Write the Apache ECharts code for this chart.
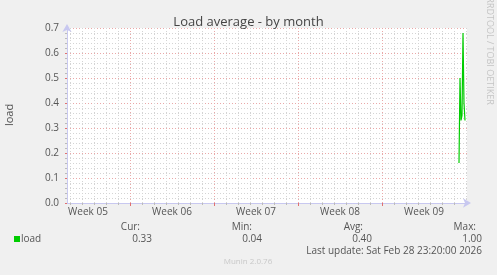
<!DOCTYPE html>
<html><head><meta charset="utf-8">
<script src="https://cdn.jsdelivr.net/npm/echarts@6/dist/echarts.min.js"></script>
<style>html,body{margin:0;padding:0;background:#f0f0f0;}#c{width:497px;height:275px;}</style>
</head><body><div id="c"></div>
<script>
// ---- data ----
const title = 'Load average - by month';
const seriesName = 'load';
const weekLabels = ['Week 05', 'Week 06', 'Week 07', 'Week 08', 'Week 09'];
const weekLabelDays = [-3.5, 3.5, 10.5, 17.5, 24.5];   // days from start of Week 06
const weekStartDays = [0, 7, 14, 21];
const loadDays = [27.417, 27.5, 27.583, 27.667, 27.75, 27.833, 27.917];
const loadValues = [0.16, 0.50, 0.33, 0.35, 0.68, 0.40, 0.33];
const yTicks = [0, 0.1, 0.2, 0.3, 0.4, 0.5, 0.6, 0.7];
const statHeads = ['Cur:', 'Min:', 'Avg:', 'Max:'];
const statValues = ['0.33', '0.04', '0.40', '1.00'];
const lastUpdate = 'Last update: Sat Feb 28 23:20:00 2026';

const X_MIN = -5.25, X_MAX = 28.0833;
const dayLines = [];
for (let d = -5; d <= 28; d++) dayLines.push(d);

const font = '"Open Sans", "Noto Sans", sans-serif';
const txt = '#555';
const gray = '#d4d4d4';
const red = '#eaa8a8';
const axisBlue = '#c8c8f0';

const chart = echarts.init(document.getElementById('c'), null, {renderer: 'canvas'});
const baseX = {type: 'value', min: X_MIN, max: X_MAX, gridIndex: 0, position: 'bottom'};

const headRight = [140, 252, 363, 476];
const valRight = [152, 262, 372, 482];
const graphics = [
  {type: 'text', x: 10, y: 115, rotation: Math.PI / 2,
   style: {text: 'load', font: '11px ' + font, fill: txt, align: 'center', verticalAlign: 'middle'}},
  {type: 'text', x: 490, y: 51, rotation: -Math.PI / 2,
   style: {text: 'RRDTOOL / TOBI OETIKER', font: '9px ' + font, fill: '#c4c4c4', align: 'center', verticalAlign: 'middle'}},
  {type: 'rect', shape: {x: 14, y: 236, width: 6, height: 6}, style: {fill: '#00cc00'}},
  {type: 'text', x: 21, y: 239,
   style: {text: seriesName, font: '10px ' + font, fill: txt, align: 'left', verticalAlign: 'middle'}},
  {type: 'text', x: 482, y: 251,
   style: {text: lastUpdate, font: '10px ' + font, fill: txt, align: 'right', verticalAlign: 'middle'}},
  {type: 'text', x: 248, y: 262,
   style: {text: 'Munin 2.0.76', font: '8px ' + font, fill: '#c8c8c8', align: 'center', verticalAlign: 'middle'}}
];
statHeads.forEach((h, i) => {
  graphics.push({type: 'text', x: headRight[i], y: 227,
    style: {text: h, font: '10px ' + font, fill: txt, align: 'right', verticalAlign: 'middle'}});
  graphics.push({type: 'text', x: valRight[i], y: 239,
    style: {text: statValues[i], font: '10px ' + font, fill: txt, align: 'right', verticalAlign: 'middle'}});
});

chart.setOption({
  backgroundColor: '#f0f0f0',
  animation: false,
  title: {text: title, left: 'center', top: 11,
    textStyle: {fontFamily: font, fontSize: 13, fontWeight: 'normal', color: '#444'}},
  grid: {left: 67, right: 30, top: 28, bottom: 72, show: true, backgroundColor: '#ffffff', borderWidth: 0},
  xAxis: [
    Object.assign({}, baseX, {
      axisLine: {show: false, onZero: false},
      axisTick: {show: true, customValues: dayLines, length: 2, lineStyle: {color: '#bbb'}},
      axisLabel: {show: false},
      splitLine: {show: true, lineStyle: {color: gray, type: [1, 2], width: 1}}
    }),
    Object.assign({}, baseX, {
      axisLine: {show: false, onZero: false},
      axisTick: {show: true, customValues: weekStartDays, length: 3, lineStyle: {color: '#e07070'}},
      axisLabel: {show: false},
      splitLine: {show: true, lineStyle: {color: red, type: [1, 2], width: 1}}
    }),
    Object.assign({}, baseX, {
      axisLine: {show: true, onZero: false, symbol: ['none', 'arrow'], symbolSize: [7, 8], symbolOffset: [0, 4],
        lineStyle: {color: axisBlue, width: 1}},
      axisTick: {show: false},
      axisLabel: {show: true, customValues: weekLabelDays, margin: 4,
        fontFamily: font, fontSize: 10, color: txt,
        formatter: v => weekLabels[weekLabelDays.indexOf(v)] || ''},
      splitLine: {show: false}
    })
  ],
  yAxis: {
    type: 'value', min: yTicks[0], max: yTicks[yTicks.length - 1], interval: 0.1,
    axisLine: {show: true, onZero: false, symbol: ['none', 'arrow'], symbolSize: [7, 8], symbolOffset: [0, 4],
      lineStyle: {color: axisBlue, width: 1}},
    axisTick: {show: true, length: 2, lineStyle: {color: '#e07070'}},
    minorTick: {show: true, splitNumber: 5, length: 2, lineStyle: {color: '#bbb'}},
    axisLabel: {fontFamily: font, fontSize: 10, color: txt, margin: 8, formatter: v => v.toFixed(1)},
    splitLine: {show: true, lineStyle: {color: red, type: [1, 2], width: 1}},
    minorSplitLine: {show: true, lineStyle: {color: gray, type: [1, 2], width: 1}}
  },
  series: [{
    name: seriesName, type: 'line', xAxisIndex: 2, showSymbol: false, symbol: 'none',
    data: loadDays.map((d, i) => [d, loadValues[i]]),
    lineStyle: {color: '#00cc00', width: 1.2}, z: 5
  }],
  graphic: graphics
});
</script></body></html>
